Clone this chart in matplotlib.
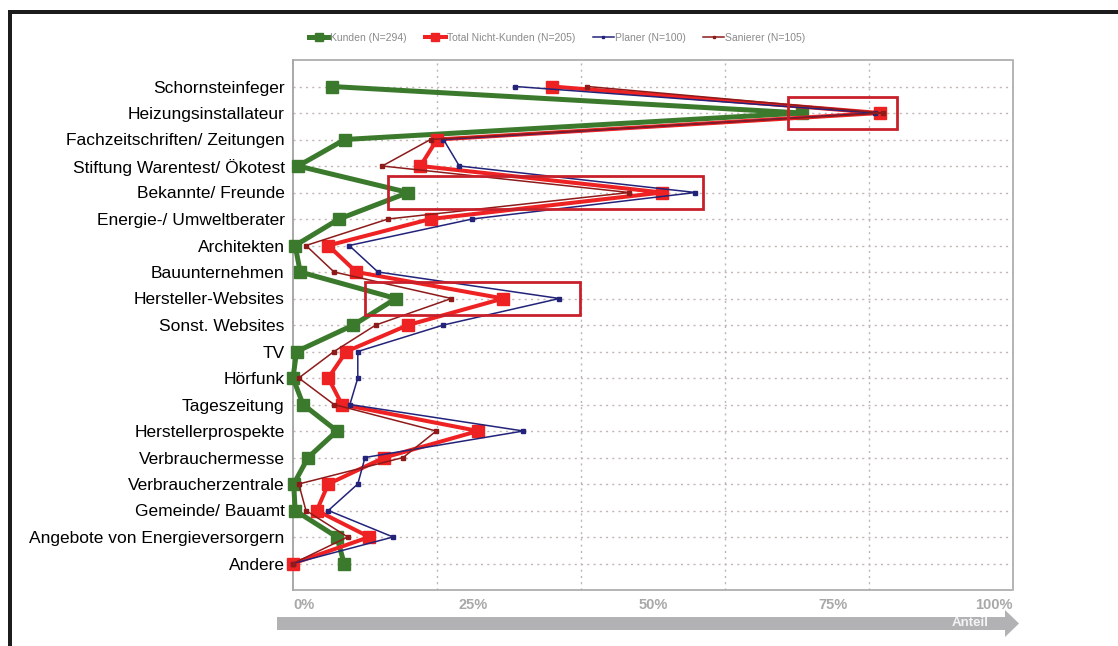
import numpy as np
import matplotlib
matplotlib.use("Agg")
import matplotlib.pyplot as plt
from matplotlib.patches import Rectangle, FancyArrow

plt.rcParams['font.family'] = ['Liberation Sans', 'DejaVu Sans']

categories = ["Schornsteinfeger", "Heizungsinstallateur", "Fachzeitschriften/ Zeitungen",
              "Stiftung Warentest/ Ökotest", "Bekannte/ Freunde", "Energie-/ Umweltberater",
              "Architekten", "Bauunternehmen", "Hersteller-Websites", "Sonst. Websites", "TV",
              "Hörfunk", "Tageszeitung", "Herstellerprospekte", "Verbrauchermesse",
              "Verbraucherzentrale", "Gemeinde/ Bauamt", "Angebote von Energieversorgern", "Andere"]

kunden = [5.4, 70.7, 7.2, 0.7, 16.0, 6.4, 0.3, 1.0, 14.3, 8.4, 0.5, 0.0, 1.4, 6.1, 2.1, 0.1, 0.3, 6.1, 7.1]
nicht_kunden = [36.0, 81.5, 20.0, 17.7, 51.3, 19.1, 4.9, 8.8, 29.2, 16.0, 7.4, 4.9, 6.8, 25.7, 12.7, 4.9, 3.3, 10.6, 0.0]
planer = [30.9, 80.8, 20.9, 23.1, 55.9, 24.9, 7.8, 11.8, 37.0, 20.9, 9.0, 9.0, 7.9, 32.0, 10.0, 9.0, 4.9, 13.9, 0.0]
sanierer = [40.9, 82.0, 19.1, 12.4, 46.7, 13.2, 1.8, 5.7, 22.0, 11.5, 5.7, 0.8, 5.7, 19.9, 15.3, 0.8, 1.8, 7.6, 0.0]

series_labels = ["Kunden (N=294)", "Total Nicht-Kunden (N=205)", "Planer (N=100)", "Sanierer (N=105)"]
x_ticks = [0, 25, 50, 75, 100]
x_ticklabels = ["0%", "25%", "50%", "75%", "100%"]

# highlighted rows: (row, pad left, pad right)
highlights = [(1, 1.9, 1.9), (4, 2.8, 1.0), (8, 4.3, 2.8)]

W, H = 1118, 646
fig = plt.figure(figsize=(W / 100, H / 100), dpi=100)
fig.patch.set_facecolor('white')
ax = fig.add_axes([293 / W, 1 - 590 / H, 720 / W, 530 / H])

y = np.arange(len(categories))

ax.plot(kunden, y, color='#3b7a2c', lw=3.6, marker='s', ms=8.5, zorder=3, clip_on=False, label=series_labels[0])
ax.plot(nicht_kunden, y, color='#ee2222', lw=2.9, marker='s', ms=8.5, zorder=4, clip_on=False, label=series_labels[1])
ax.plot(planer, y, color='#23237a', lw=1.1, marker='s', ms=3, zorder=5, clip_on=False, label=series_labels[2])
ax.plot(sanierer, y, color='#8e1a1a', lw=1.1, marker='s', ms=3, zorder=6, clip_on=False, label=series_labels[3])

for row, pl, pr in highlights:
    vals = [kunden[row], nicht_kunden[row], planer[row], sanierer[row]]
    x0 = min(vals) - pl
    x1 = max(vals) + pr
    ax.add_patch(Rectangle((x0, row - 0.61), x1 - x0, 1.22, fill=False,
                           edgecolor='#c8202a', lw=2, zorder=7))

ax.set_xlim(0, 100)
ax.set_ylim(len(categories), -1)

for yy in y:
    ax.axhline(yy, color='#c4b4b4', lw=1, ls=(0, (1.5, 3)), zorder=0)
for xx in [20, 40, 60, 80]:
    ax.axvline(xx, color='#b8b8b8', lw=1, ls=(0, (1.5, 3)), zorder=0)

ax.set_yticks(y)
ax.set_yticklabels(categories, fontsize=12.5, color='black')
ax.set_xticks(x_ticks)
ax.set_xticklabels(x_ticklabels, fontsize=10.5, fontweight='bold', color='#a8a8a8')
ax.tick_params(axis='both', length=0)
ax.tick_params(axis='y', pad=6)
ax.tick_params(axis='x', pad=6)
xl = ax.get_xticklabels()
xl[0].set_ha('left')
xl[-1].set_ha('right')

for side in ['top', 'right', 'bottom']:
    ax.spines[side].set_color('#a8a8a8')
    ax.spines[side].set_linestyle((0, (2, 1)))
    ax.spines[side].set_linewidth(1.2)
ax.spines['left'].set_color('#9a9a9a')
ax.spines['left'].set_linewidth(1.2)

fig.legend(loc='center', bbox_to_anchor=(557 / W, 1 - 38 / H), ncol=4, frameon=False,
           labelcolor='#8a8a8a', handlelength=2.0, handletextpad=0.1,
           columnspacing=1.7, markerscale=0.6,
           prop={'family': ['Liberation Sans Narrow', 'Liberation Sans'], 'size': 7.5})

# frame
fig.patches.append(Rectangle((8 / W, 0), 4 / W, 1 - 10 / H, transform=fig.transFigure,
                             facecolor='#1c1c1c', edgecolor='none'))
fig.patches.append(Rectangle((8 / W, 1 - 14 / H), 1, 4 / H, transform=fig.transFigure,
                             facecolor='#1c1c1c', edgecolor='none'))

# arrow
fig.patches.append(FancyArrow(2.77, (H - 623.5) / 100, 7.42, 0, width=0.13, head_width=0.27,
                              head_length=0.14, length_includes_head=True,
                              transform=fig.dpi_scale_trans, facecolor='#b2b2b4', edgecolor='none'))
fig.text(970 / W, 1 - 623 / H, "Anteil", color='#f4f4f4', fontsize=9.5, fontweight='bold',
         ha='center', va='center')

fig.savefig('out.png', dpi=100)
